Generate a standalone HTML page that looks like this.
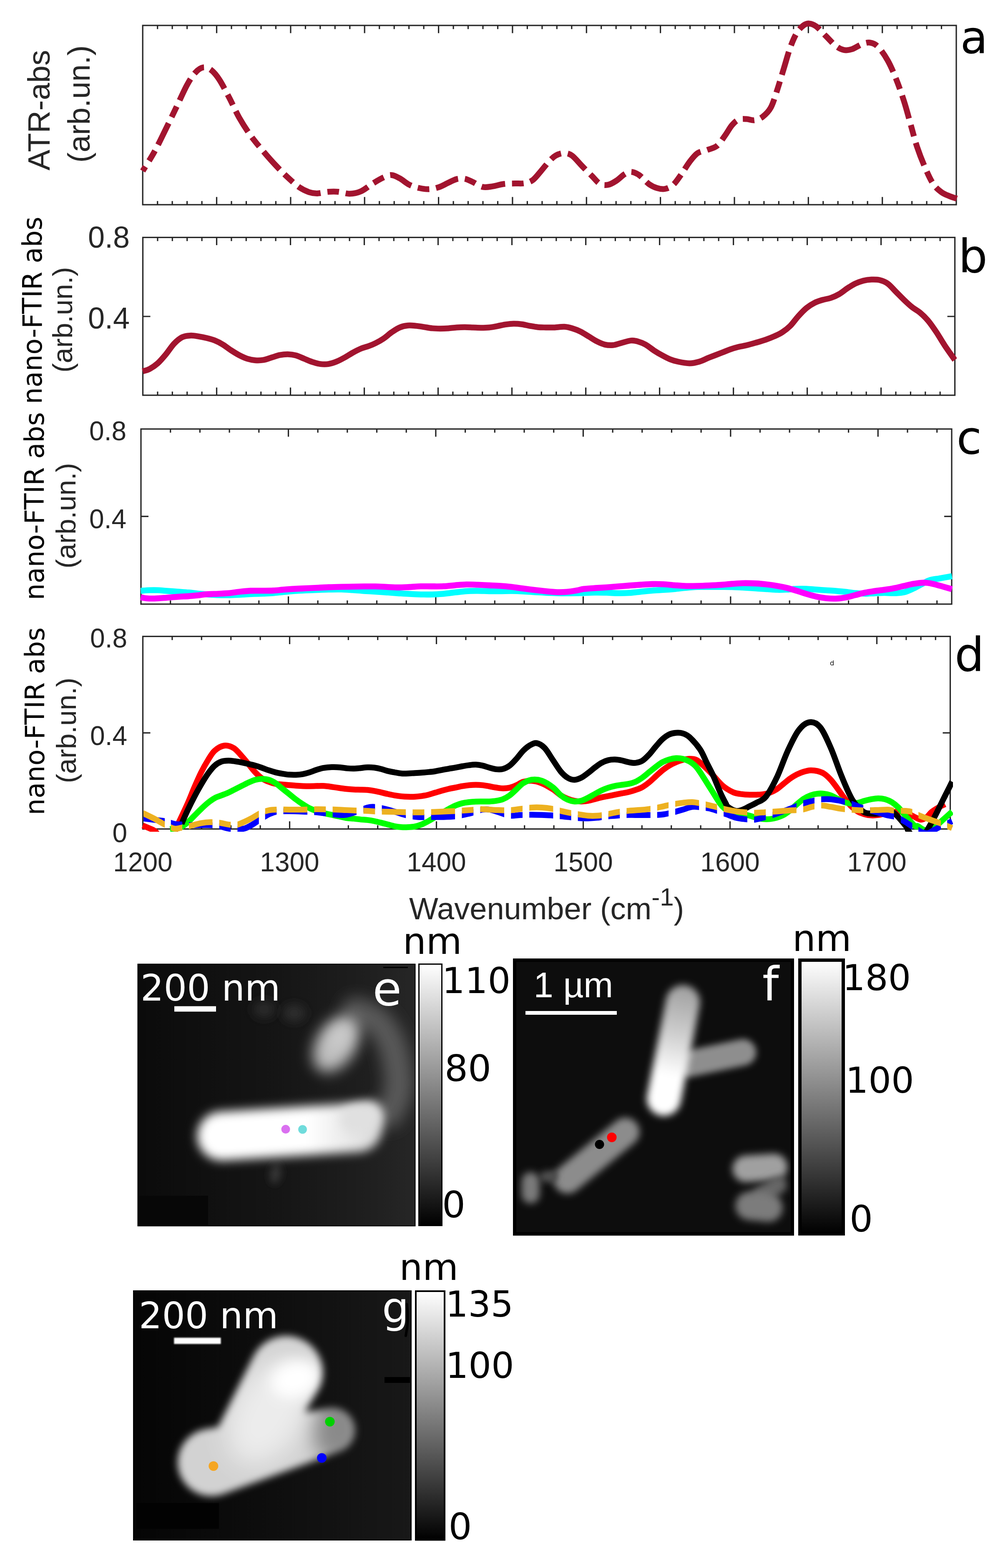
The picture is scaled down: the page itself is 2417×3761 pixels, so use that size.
<!DOCTYPE html>
<html lang="en"><head><meta charset="utf-8"><title>Figure</title>
<style>
html,body{margin:0;padding:0;background:#fff;}
body{width:2417px;height:3761px;overflow:hidden;}
svg{display:block;}
text{white-space:pre;}
</style></head><body>
<svg width="2417" height="3761" viewBox="0 0 2417 3761">
<defs>
<clipPath id="clipA"><rect x="336" y="40" width="1962" height="456"/></clipPath>
<clipPath id="clipB"><rect x="336" y="565" width="1958" height="388"/></clipPath>
<clipPath id="clipC"><rect x="331" y="1025" width="1957" height="430"/></clipPath>
<clipPath id="clipD"><rect x="336" y="1522" width="1949" height="473"/></clipPath>
<linearGradient id="cb" x1="0" y1="0" x2="0" y2="1"><stop offset="0" stop-color="#fff"/><stop offset="1" stop-color="#000"/></linearGradient>
</defs>
<rect width="2417" height="3761" fill="#fff"/>
<g stroke="#262626" stroke-width="3.2" fill="none"><rect x="342.2" y="61.0" width="1950.8" height="430.0"/><path d="M519.5 61.0v18.5M519.5 491.0v-18.5M696.9 61.0v18.5M696.9 491.0v-18.5M874.2 61.0v18.5M874.2 491.0v-18.5M1051.6 61.0v18.5M1051.6 491.0v-18.5M1228.9 61.0v18.5M1228.9 491.0v-18.5M1406.3 61.0v18.5M1406.3 491.0v-18.5M1583.6 61.0v18.5M1583.6 491.0v-18.5M1761.0 61.0v18.5M1761.0 491.0v-18.5M1938.3 61.0v18.5M1938.3 491.0v-18.5M2115.7 61.0v18.5M2115.7 491.0v-18.5M377.7 61.0v8.8M377.7 491.0v-8.8M413.1 61.0v8.8M413.1 491.0v-8.8M448.6 61.0v8.8M448.6 491.0v-8.8M484.1 61.0v8.8M484.1 491.0v-8.8M555.0 61.0v8.8M555.0 491.0v-8.8M590.5 61.0v8.8M590.5 491.0v-8.8M626.0 61.0v8.8M626.0 491.0v-8.8M661.4 61.0v8.8M661.4 491.0v-8.8M732.4 61.0v8.8M732.4 491.0v-8.8M767.8 61.0v8.8M767.8 491.0v-8.8M803.3 61.0v8.8M803.3 491.0v-8.8M838.8 61.0v8.8M838.8 491.0v-8.8M909.7 61.0v8.8M909.7 491.0v-8.8M945.2 61.0v8.8M945.2 491.0v-8.8M980.6 61.0v8.8M980.6 491.0v-8.8M1016.1 61.0v8.8M1016.1 491.0v-8.8M1087.1 61.0v8.8M1087.1 491.0v-8.8M1122.5 61.0v8.8M1122.5 491.0v-8.8M1158.0 61.0v8.8M1158.0 491.0v-8.8M1193.5 61.0v8.8M1193.5 491.0v-8.8M1264.4 61.0v8.8M1264.4 491.0v-8.8M1299.9 61.0v8.8M1299.9 491.0v-8.8M1335.3 61.0v8.8M1335.3 491.0v-8.8M1370.8 61.0v8.8M1370.8 491.0v-8.8M1441.7 61.0v8.8M1441.7 491.0v-8.8M1477.2 61.0v8.8M1477.2 491.0v-8.8M1512.7 61.0v8.8M1512.7 491.0v-8.8M1548.1 61.0v8.8M1548.1 491.0v-8.8M1619.1 61.0v8.8M1619.1 491.0v-8.8M1654.6 61.0v8.8M1654.6 491.0v-8.8M1690.0 61.0v8.8M1690.0 491.0v-8.8M1725.5 61.0v8.8M1725.5 491.0v-8.8M1796.4 61.0v8.8M1796.4 491.0v-8.8M1831.9 61.0v8.8M1831.9 491.0v-8.8M1867.4 61.0v8.8M1867.4 491.0v-8.8M1902.8 61.0v8.8M1902.8 491.0v-8.8M1973.8 61.0v8.8M1973.8 491.0v-8.8M2009.2 61.0v8.8M2009.2 491.0v-8.8M2044.7 61.0v8.8M2044.7 491.0v-8.8M2080.2 61.0v8.8M2080.2 491.0v-8.8M2151.1 61.0v8.8M2151.1 491.0v-8.8M2186.6 61.0v8.8M2186.6 491.0v-8.8M2222.1 61.0v8.8M2222.1 491.0v-8.8M2257.5 61.0v8.8M2257.5 491.0v-8.8"/></g>
<g clip-path="url(#clipA)"><path d="M342.2 410.1C346.9 402.3 361.4 380.3 370.6 363.4C379.9 346.5 388.8 327.3 397.9 308.8C407.0 290.3 416.8 269.9 425.2 252.3C433.6 234.8 441.4 216.6 448.6 203.6C455.7 190.6 461.6 181.4 468.1 174.4C474.5 167.4 481.0 162.5 487.5 161.6C494.0 160.6 500.5 163.5 507.0 168.6C513.5 173.6 519.4 180.9 526.5 191.9C533.6 203.0 542.1 219.9 549.9 234.8C557.7 249.7 564.8 266.6 573.2 281.6C581.7 296.5 590.8 310.8 600.5 324.4C610.3 338.1 621.3 351.0 631.7 363.4C642.1 375.7 653.1 388.1 662.9 398.4C672.6 408.8 681.0 417.3 690.1 425.7C699.2 434.2 709.0 443.2 717.4 449.1C725.8 454.9 733.6 458.3 740.8 460.8C747.9 463.2 752.5 464.0 760.3 463.9C768.1 463.8 779.1 460.6 787.5 460.0C796.0 459.4 802.5 459.2 810.9 460.0C819.4 460.8 829.1 464.9 838.2 464.7C847.3 464.5 856.1 463.0 865.5 458.8C874.8 454.7 885.4 445.4 894.4 439.8C903.4 434.3 912.1 429.0 919.5 425.7C926.9 422.4 932.5 419.5 939.0 419.9C945.5 420.2 951.3 423.8 958.4 427.7C965.6 431.6 974.0 439.4 981.8 443.2C989.6 447.1 997.4 449.3 1005.2 451.0C1013.0 452.8 1020.8 454.1 1028.6 453.8C1036.4 453.4 1044.2 451.7 1051.9 449.1C1059.7 446.5 1068.2 441.4 1075.3 438.2C1082.5 434.9 1088.3 431.2 1094.8 429.6C1101.3 428.1 1107.8 427.7 1114.3 428.8C1120.8 430.0 1126.6 433.4 1133.8 436.6C1140.9 439.9 1149.4 446.6 1157.1 448.3C1164.9 450.1 1172.1 448.3 1180.5 447.1C1189.0 446.0 1198.7 442.5 1207.8 441.3C1216.9 440.1 1226.6 440.5 1235.1 440.1C1243.5 439.8 1251.3 440.8 1258.4 439.4C1265.6 437.9 1271.4 436.4 1277.9 431.6C1284.4 426.7 1290.9 417.6 1297.4 410.1C1303.9 402.7 1311.0 392.9 1316.9 386.8C1322.7 380.6 1326.6 376.4 1332.5 373.1C1338.3 369.9 1345.5 367.3 1351.9 367.3C1358.4 367.3 1364.2 368.0 1371.4 373.1C1378.7 378.2 1387.4 389.8 1395.5 398.0C1403.5 406.2 1412.2 415.1 1419.5 422.3C1426.7 429.5 1432.5 437.8 1439.0 441.3C1445.5 444.8 1451.9 444.5 1458.4 443.2C1464.9 441.9 1471.4 437.7 1477.9 433.5C1484.4 429.3 1491.6 421.5 1497.4 417.9C1503.2 414.4 1507.1 411.8 1513.0 412.1C1518.8 412.4 1525.3 415.0 1532.5 419.9C1539.6 424.7 1548.7 436.1 1555.8 441.3C1563.0 446.5 1568.8 449.1 1575.3 451.0C1581.8 453.0 1588.3 454.3 1594.8 453.0C1601.3 451.7 1607.8 449.1 1614.3 443.2C1620.8 437.4 1627.3 427.0 1633.8 417.9C1640.3 408.8 1646.8 397.1 1653.2 388.7C1659.7 380.3 1665.6 372.1 1672.7 367.3C1679.9 362.4 1688.3 362.4 1696.1 359.5C1703.9 356.6 1712.3 355.6 1719.5 349.7C1726.6 343.9 1733.1 332.5 1739.0 324.4C1744.8 316.3 1749.4 307.2 1754.5 301.0C1759.7 294.9 1764.3 290.0 1770.1 287.4C1776.0 284.8 1783.1 285.3 1789.6 285.5C1796.1 285.6 1802.6 289.3 1809.1 288.4C1815.6 287.5 1822.2 285.1 1828.7 280.1C1835.2 275.1 1842.3 269.0 1848.2 258.2C1854.0 247.4 1858.6 230.9 1863.8 215.3C1868.9 199.7 1874.1 181.6 1879.3 164.7C1884.5 147.8 1889.7 128.3 1894.9 114.0C1900.1 99.7 1905.3 87.7 1910.5 79.0C1915.7 70.2 1921.2 65.2 1926.1 61.4C1931.0 57.7 1934.5 56.0 1939.7 56.4C1944.9 56.7 1950.4 58.3 1957.3 63.4C1964.1 68.4 1972.8 79.0 1980.6 86.8C1988.4 94.5 1996.9 104.6 2004.0 110.1C2011.2 115.6 2017.0 118.6 2023.5 119.9C2030.0 121.2 2035.8 120.2 2043.0 117.9C2050.1 115.6 2059.2 108.8 2066.4 106.2C2073.5 103.6 2079.3 101.4 2085.8 102.3C2092.3 103.3 2098.2 104.9 2105.3 112.1C2112.5 119.2 2121.5 132.5 2128.7 145.2C2135.8 157.9 2141.7 171.8 2148.2 188.1C2154.7 204.3 2161.8 224.4 2167.6 242.6C2173.5 260.8 2178.0 279.0 2183.2 297.1C2188.4 315.3 2193.0 334.2 2198.8 351.7C2204.7 369.2 2211.8 387.4 2218.3 402.3C2224.8 417.3 2231.3 431.6 2237.8 441.3C2244.3 451.0 2250.8 455.9 2257.3 460.8C2263.8 465.6 2270.6 467.9 2276.7 470.5C2282.9 473.1 2291.4 475.4 2294.3 476.4" fill="none" stroke="#a2142f" stroke-width="14.0" stroke-dasharray="57.5 16.3 28 16.3" stroke-dashoffset="45" stroke-linejoin="round"/></g>
<text x="118.9" y="264.5" font-family='"Liberation Sans", Arial, Helvetica, sans-serif' font-size="74.7" fill="#262626" text-anchor="middle" transform="rotate(-90 118.9 264.5)" >ATR-abs</text>
<text x="215.3" y="249.5" font-family='"Liberation Sans", Arial, Helvetica, sans-serif' font-size="74.5" fill="#262626" text-anchor="middle" transform="rotate(-90 215.3 249.5)" >(arb.un.)</text>
<text x="2302.5" y="127.0" font-family='"DejaVu Sans", "Liberation Sans", sans-serif' font-size="108.0" fill="#000" text-anchor="start" >a</text>
<g stroke="#262626" stroke-width="3.2" fill="none"><rect x="342.5" y="569.5" width="1947.1" height="378.5"/><path d="M519.5 569.5v18.5M519.5 948.0v-18.5M696.5 569.5v18.5M696.5 948.0v-18.5M873.5 569.5v18.5M873.5 948.0v-18.5M1050.5 569.5v18.5M1050.5 948.0v-18.5M1227.5 569.5v18.5M1227.5 948.0v-18.5M1404.6 569.5v18.5M1404.6 948.0v-18.5M1581.6 569.5v18.5M1581.6 948.0v-18.5M1758.6 569.5v18.5M1758.6 948.0v-18.5M1935.6 569.5v18.5M1935.6 948.0v-18.5M2112.6 569.5v18.5M2112.6 948.0v-18.5M377.9 569.5v8.8M377.9 948.0v-8.8M413.3 569.5v8.8M413.3 948.0v-8.8M448.7 569.5v8.8M448.7 948.0v-8.8M484.1 569.5v8.8M484.1 948.0v-8.8M554.9 569.5v8.8M554.9 948.0v-8.8M590.3 569.5v8.8M590.3 948.0v-8.8M625.7 569.5v8.8M625.7 948.0v-8.8M661.1 569.5v8.8M661.1 948.0v-8.8M731.9 569.5v8.8M731.9 948.0v-8.8M767.3 569.5v8.8M767.3 948.0v-8.8M802.7 569.5v8.8M802.7 948.0v-8.8M838.1 569.5v8.8M838.1 948.0v-8.8M908.9 569.5v8.8M908.9 948.0v-8.8M944.3 569.5v8.8M944.3 948.0v-8.8M979.7 569.5v8.8M979.7 948.0v-8.8M1015.1 569.5v8.8M1015.1 948.0v-8.8M1085.9 569.5v8.8M1085.9 948.0v-8.8M1121.3 569.5v8.8M1121.3 948.0v-8.8M1156.7 569.5v8.8M1156.7 948.0v-8.8M1192.1 569.5v8.8M1192.1 948.0v-8.8M1262.9 569.5v8.8M1262.9 948.0v-8.8M1298.3 569.5v8.8M1298.3 948.0v-8.8M1333.8 569.5v8.8M1333.8 948.0v-8.8M1369.2 569.5v8.8M1369.2 948.0v-8.8M1440.0 569.5v8.8M1440.0 948.0v-8.8M1475.4 569.5v8.8M1475.4 948.0v-8.8M1510.8 569.5v8.8M1510.8 948.0v-8.8M1546.2 569.5v8.8M1546.2 948.0v-8.8M1617.0 569.5v8.8M1617.0 948.0v-8.8M1652.4 569.5v8.8M1652.4 948.0v-8.8M1687.8 569.5v8.8M1687.8 948.0v-8.8M1723.2 569.5v8.8M1723.2 948.0v-8.8M1794.0 569.5v8.8M1794.0 948.0v-8.8M1829.4 569.5v8.8M1829.4 948.0v-8.8M1864.8 569.5v8.8M1864.8 948.0v-8.8M1900.2 569.5v8.8M1900.2 948.0v-8.8M1971.0 569.5v8.8M1971.0 948.0v-8.8M2006.4 569.5v8.8M2006.4 948.0v-8.8M2041.8 569.5v8.8M2041.8 948.0v-8.8M2077.2 569.5v8.8M2077.2 948.0v-8.8M2148.0 569.5v8.8M2148.0 948.0v-8.8M2183.4 569.5v8.8M2183.4 948.0v-8.8M2218.8 569.5v8.8M2218.8 948.0v-8.8M2254.2 569.5v8.8M2254.2 948.0v-8.8M342.5 759.0h18.0M2289.6 759.0h-18.0"/></g>
<g clip-path="url(#clipB)"><path d="M342.2 890.6C345.0 889.7 352.9 888.1 359.0 884.8C365.0 881.6 371.9 877.0 378.4 871.2C384.9 865.3 391.4 857.5 397.9 849.7C404.4 841.9 410.9 831.2 417.4 824.4C423.9 817.6 430.4 812.1 436.9 808.8C443.4 805.6 449.9 805.3 456.4 804.9C462.9 804.6 469.4 805.9 475.8 806.9C482.3 807.9 488.8 809.2 495.3 810.8C501.8 812.4 508.3 814.0 514.8 816.6C521.3 819.2 527.8 822.5 534.3 826.4C540.8 830.3 547.3 835.8 553.8 840.0C560.3 844.2 566.8 848.3 573.2 851.7C579.7 855.1 586.2 858.2 592.7 860.3C599.2 862.3 605.7 863.6 612.2 864.2C618.7 864.7 625.2 864.5 631.7 863.4C638.2 862.3 644.7 859.5 651.2 857.5C657.7 855.6 664.2 853.0 670.6 851.7C677.1 850.4 683.6 849.6 690.1 849.7C696.6 849.9 703.1 850.7 709.6 852.5C716.1 854.2 722.6 857.7 729.1 860.3C735.6 862.9 742.1 865.9 748.6 868.1C755.1 870.2 761.6 872.3 768.1 873.1C774.5 874.0 781.0 874.1 787.5 873.1C794.0 872.1 800.5 869.9 807.0 867.3C813.5 864.7 820.0 861.1 826.5 857.5C833.0 854.0 839.5 849.4 846.0 845.8C852.5 842.3 859.0 838.8 865.5 836.1C871.9 833.4 879.2 831.9 884.9 829.8C890.7 827.7 894.2 826.4 900.0 823.4C905.8 820.5 913.0 816.6 919.5 812.2C926.0 807.9 932.5 801.6 939.0 797.1C945.5 792.7 951.9 788.2 958.4 785.5C964.9 782.7 971.4 781.4 977.9 780.8C984.4 780.1 990.9 781.0 997.4 781.6C1003.9 782.1 1010.4 783.3 1016.9 784.3C1023.4 785.3 1029.9 786.8 1036.4 787.4C1042.9 788.1 1049.4 788.2 1055.8 788.2C1062.3 788.2 1068.8 787.9 1075.3 787.4C1081.8 786.9 1088.3 785.9 1094.8 785.5C1101.3 785.0 1107.8 784.7 1114.3 784.7C1120.8 784.7 1127.3 785.2 1133.8 785.5C1140.3 785.7 1146.8 786.2 1153.2 786.2C1159.7 786.2 1166.2 786.1 1172.7 785.5C1179.2 784.8 1185.7 783.5 1192.2 782.3C1198.7 781.2 1205.2 779.4 1211.7 778.4C1218.2 777.5 1224.7 776.6 1231.2 776.5C1237.7 776.4 1244.2 776.8 1250.6 777.7C1257.1 778.5 1263.6 780.4 1270.1 781.6C1276.6 782.7 1283.1 784.0 1289.6 784.7C1296.1 785.3 1302.6 785.3 1309.1 785.5C1315.6 785.6 1321.2 785.7 1328.6 785.5C1335.9 785.2 1345.9 783.4 1353.2 783.8C1360.6 784.1 1366.2 785.7 1372.7 787.7C1379.2 789.6 1385.7 792.2 1392.2 795.5C1398.7 798.7 1405.2 803.2 1411.7 807.1C1418.2 811.0 1424.7 815.6 1431.2 818.8C1437.7 822.1 1444.2 825.1 1450.6 826.6C1457.1 828.1 1463.6 828.4 1470.1 827.8C1476.6 827.1 1482.5 824.5 1489.6 822.7C1496.8 820.9 1506.5 817.5 1513.0 816.9C1519.5 816.2 1522.7 817.2 1528.6 818.8C1534.4 820.5 1541.6 823.1 1548.1 826.6C1554.5 830.2 1561.0 836.0 1567.5 840.3C1574.0 844.5 1580.5 848.4 1587.0 851.9C1593.5 855.5 1600.0 859.1 1606.5 861.7C1613.0 864.3 1618.2 865.9 1626.0 867.5C1633.8 869.2 1644.8 871.4 1653.2 871.4C1661.7 871.4 1668.8 869.8 1676.6 867.5C1684.4 865.3 1690.9 861.4 1700.0 857.8C1709.1 854.2 1722.7 849.1 1731.2 845.8C1739.6 842.6 1744.2 840.3 1750.6 838.1C1757.1 835.8 1763.6 833.8 1770.1 832.2C1776.6 830.6 1782.5 830.0 1789.6 828.3C1796.8 826.6 1805.2 824.1 1813.0 821.8C1820.9 819.5 1829.3 817.1 1836.5 814.6C1843.6 812.1 1849.5 809.8 1856.0 806.9C1862.5 804.0 1868.9 801.4 1875.4 797.1C1881.9 792.9 1888.4 788.1 1894.9 781.6C1901.4 775.1 1907.9 765.3 1914.4 758.2C1920.9 751.0 1927.4 744.0 1933.9 738.7C1940.4 733.4 1946.9 729.5 1953.4 726.2C1959.9 723.0 1966.4 721.2 1972.8 719.2C1979.3 717.3 1985.8 716.8 1992.3 714.5C1998.8 712.3 2005.3 709.4 2011.8 705.6C2018.3 701.8 2024.8 696.2 2031.3 691.9C2037.8 687.7 2044.3 683.4 2050.8 680.3C2057.3 677.1 2063.8 674.9 2070.2 673.2C2076.7 671.6 2083.2 670.8 2089.7 670.5C2096.2 670.3 2102.7 670.1 2109.2 671.7C2115.7 673.3 2122.2 675.6 2128.7 680.3C2135.2 684.9 2141.7 693.2 2148.2 699.7C2154.7 706.2 2161.2 713.1 2167.6 719.2C2174.1 725.4 2180.6 731.6 2187.1 736.8C2193.6 741.9 2200.1 744.9 2206.6 750.4C2213.1 755.9 2219.6 762.1 2226.1 769.9C2232.6 777.7 2239.1 787.4 2245.6 797.1C2252.1 806.9 2257.7 817.3 2265.1 828.3C2272.4 839.4 2285.5 857.5 2289.6 863.4" fill="none" stroke="#a2142f" stroke-width="14.0" stroke-linejoin="round"/></g>
<text x="99.5" y="744.5" font-family='"DejaVu Sans", "Liberation Sans", sans-serif' font-size="63.2" fill="#000" text-anchor="middle" transform="rotate(-90 99.5 744.5)" >nano-FTIR abs</text>
<text x="173.2" y="767.0" font-family='"Liberation Sans", Arial, Helvetica, sans-serif' font-size="67.0" fill="#262626" text-anchor="middle" transform="rotate(-90 173.2 767.0)" >(arb.un.)</text>
<text x="311.0" y="593.5" font-family='"Liberation Sans", Arial, Helvetica, sans-serif' font-size="72.0" fill="#262626" text-anchor="end" >0.8</text>
<text x="311.0" y="788.0" font-family='"Liberation Sans", Arial, Helvetica, sans-serif' font-size="72.0" fill="#262626" text-anchor="end" >0.4</text>
<text x="2298.0" y="653.0" font-family='"DejaVu Sans", "Liberation Sans", sans-serif' font-size="110.0" fill="#000" text-anchor="start" >b</text>
<g stroke="#262626" stroke-width="3.2" fill="none"><rect x="338.0" y="1029.0" width="1944.0" height="420.0"/><path d="M691.5 1029.0v18.5M691.5 1449.0v-18.5M1044.9 1029.0v18.5M1044.9 1449.0v-18.5M1398.4 1029.0v18.5M1398.4 1449.0v-18.5M1751.8 1029.0v18.5M1751.8 1449.0v-18.5M2105.3 1029.0v18.5M2105.3 1449.0v-18.5M408.7 1029.0v8.8M408.7 1449.0v-8.8M479.4 1029.0v8.8M479.4 1449.0v-8.8M550.1 1029.0v8.8M550.1 1449.0v-8.8M620.8 1029.0v8.8M620.8 1449.0v-8.8M762.1 1029.0v8.8M762.1 1449.0v-8.8M832.8 1029.0v8.8M832.8 1449.0v-8.8M903.5 1029.0v8.8M903.5 1449.0v-8.8M974.2 1029.0v8.8M974.2 1449.0v-8.8M1115.6 1029.0v8.8M1115.6 1449.0v-8.8M1186.3 1029.0v8.8M1186.3 1449.0v-8.8M1257.0 1029.0v8.8M1257.0 1449.0v-8.8M1327.7 1029.0v8.8M1327.7 1449.0v-8.8M1469.1 1029.0v8.8M1469.1 1449.0v-8.8M1539.7 1029.0v8.8M1539.7 1449.0v-8.8M1610.4 1029.0v8.8M1610.4 1449.0v-8.8M1681.1 1029.0v8.8M1681.1 1449.0v-8.8M1822.5 1029.0v8.8M1822.5 1449.0v-8.8M1893.2 1029.0v8.8M1893.2 1449.0v-8.8M1963.9 1029.0v8.8M1963.9 1449.0v-8.8M2034.6 1029.0v8.8M2034.6 1449.0v-8.8M2176.0 1029.0v8.8M2176.0 1449.0v-8.8M2246.7 1029.0v8.8M2246.7 1449.0v-8.8M338.0 1238.7h18.0M2282.0 1238.7h-18.0"/></g>
<g clip-path="url(#clipC)"><path d="M337.5 1417.1C341.1 1416.9 352.1 1415.9 359.0 1415.7C365.8 1415.4 371.9 1415.4 378.4 1415.7C384.9 1415.9 390.1 1416.6 397.9 1417.1C405.7 1417.7 416.1 1418.4 425.2 1419.1C434.3 1419.8 444.0 1420.4 452.5 1421.2C460.9 1422.0 467.4 1423.0 475.8 1423.9C484.3 1424.7 494.0 1425.8 503.1 1426.4C512.2 1427.0 521.3 1427.5 530.4 1427.7C539.5 1427.8 548.6 1427.6 557.7 1427.4C566.8 1427.1 576.5 1426.5 584.9 1426.0C593.4 1425.6 600.5 1425.0 608.3 1424.6C616.1 1424.3 623.9 1424.2 631.7 1423.9C639.5 1423.5 647.3 1423.2 655.1 1422.6C662.9 1422.0 670.0 1421.0 678.4 1420.2C686.9 1419.3 696.6 1418.3 705.7 1417.6C714.8 1416.9 723.9 1416.5 733.0 1416.1C742.1 1415.6 751.2 1415.4 760.3 1415.1C769.4 1414.8 777.8 1414.3 787.5 1414.1C797.3 1413.9 809.0 1413.7 818.7 1413.9C828.4 1414.1 836.9 1414.8 846.0 1415.4C855.1 1416.0 864.2 1416.9 873.2 1417.5C882.3 1418.1 891.0 1418.6 900.0 1419.2C909.0 1419.8 918.2 1420.4 927.3 1421.0C936.4 1421.6 945.5 1422.4 954.5 1423.0C963.6 1423.6 972.7 1424.3 981.8 1424.7C990.9 1425.2 1000.0 1425.6 1009.1 1425.8C1018.2 1426.0 1027.3 1426.1 1036.4 1425.8C1045.5 1425.6 1054.5 1425.0 1063.6 1424.3C1072.7 1423.5 1081.8 1422.1 1090.9 1421.0C1100.0 1420.0 1109.1 1418.7 1118.2 1418.1C1127.3 1417.5 1136.4 1417.5 1145.5 1417.4C1154.5 1417.4 1163.6 1417.9 1172.7 1418.0C1181.8 1418.1 1190.9 1418.1 1200.0 1418.0C1209.1 1418.0 1218.2 1417.6 1227.3 1417.7C1236.4 1417.8 1245.5 1418.1 1254.5 1418.5C1263.6 1418.9 1272.7 1419.7 1281.8 1420.3C1290.9 1420.8 1300.0 1421.5 1309.1 1421.9C1318.2 1422.3 1327.9 1422.6 1336.4 1422.8C1344.8 1423.0 1351.9 1423.0 1359.7 1423.0C1367.5 1423.0 1376.4 1423.0 1383.1 1422.9C1389.8 1422.7 1392.6 1422.5 1400.0 1422.3C1407.4 1422.0 1418.2 1421.5 1427.3 1421.4C1436.4 1421.3 1445.5 1421.5 1454.5 1421.7C1463.6 1422.0 1472.7 1422.8 1481.8 1422.9C1490.9 1423.0 1500.0 1422.8 1509.1 1422.2C1518.2 1421.6 1527.3 1420.2 1536.4 1419.3C1545.5 1418.3 1554.5 1417.3 1563.6 1416.6C1572.7 1415.8 1581.8 1415.5 1590.9 1414.9C1600.0 1414.3 1609.1 1413.6 1618.2 1412.8C1627.3 1411.9 1636.4 1410.6 1645.5 1409.8C1654.5 1409.0 1663.6 1408.3 1672.7 1407.9C1681.8 1407.5 1690.9 1407.6 1700.0 1407.6C1709.1 1407.6 1718.2 1407.7 1727.3 1407.8C1736.4 1407.9 1745.5 1407.8 1754.5 1408.1C1763.6 1408.3 1772.1 1408.8 1781.8 1409.4C1791.6 1409.9 1803.3 1410.6 1813.0 1411.3C1822.8 1411.9 1831.9 1412.7 1840.4 1413.2C1848.8 1413.8 1856.0 1414.5 1863.8 1414.7C1871.5 1414.9 1879.3 1414.6 1887.1 1414.2C1894.9 1413.8 1902.7 1412.8 1910.5 1412.5C1918.3 1412.2 1926.1 1412.2 1933.9 1412.5C1941.7 1412.8 1949.5 1413.7 1957.3 1414.2C1965.1 1414.8 1972.8 1415.4 1980.6 1415.9C1988.4 1416.4 1996.2 1416.7 2004.0 1417.3C2011.8 1418.0 2019.6 1418.7 2027.4 1419.6C2035.2 1420.4 2043.0 1421.8 2050.8 1422.5C2058.6 1423.2 2066.4 1423.9 2074.1 1424.0C2081.9 1424.0 2089.7 1423.3 2097.5 1423.0C2105.3 1422.7 2113.1 1422.2 2120.9 1422.2C2128.7 1422.2 2136.5 1423.1 2144.3 1422.9C2152.1 1422.6 2159.9 1422.7 2167.6 1420.7C2175.4 1418.8 2183.2 1414.9 2191.0 1411.3C2198.8 1407.7 2207.9 1402.2 2214.4 1398.9C2220.9 1395.6 2223.5 1393.4 2230.0 1391.4C2236.5 1389.5 2244.6 1388.8 2253.4 1387.2C2262.1 1385.7 2277.7 1382.9 2282.6 1382.1" fill="none" stroke="#00ffff" stroke-width="14.3" stroke-linejoin="round"/></g>
<g clip-path="url(#clipC)"><path d="M337.5 1432.7C339.8 1433.1 345.6 1434.6 351.2 1435.1C356.7 1435.6 362.9 1435.9 370.6 1435.6C378.4 1435.4 388.8 1434.5 397.9 1433.8C407.0 1433.1 416.1 1432.2 425.2 1431.6C434.3 1430.9 444.0 1430.6 452.5 1430.0C460.9 1429.4 468.7 1428.5 475.8 1427.8C483.0 1427.0 487.5 1426.0 495.3 1425.4C503.1 1424.8 513.5 1424.7 522.6 1424.3C531.7 1423.8 541.4 1423.5 549.9 1422.7C558.3 1421.9 564.8 1420.4 573.2 1419.5C581.7 1418.5 591.4 1417.5 600.5 1417.0C609.6 1416.6 618.7 1416.9 627.8 1416.9C636.9 1416.8 646.6 1416.9 655.1 1416.5C663.5 1416.1 670.0 1415.2 678.4 1414.5C686.9 1413.8 696.6 1413.0 705.7 1412.5C714.8 1411.9 723.9 1411.6 733.0 1411.2C742.1 1410.8 751.2 1410.4 760.3 1409.9C769.4 1409.5 777.8 1408.9 787.5 1408.5C797.3 1408.1 809.0 1407.8 818.7 1407.6C828.4 1407.4 836.9 1407.4 846.0 1407.2C855.1 1407.1 864.2 1406.8 873.2 1406.7C882.3 1406.6 891.0 1406.4 900.0 1406.6C909.0 1406.8 918.2 1407.4 927.3 1407.8C936.4 1408.2 945.5 1408.9 954.5 1409.0C963.6 1409.0 972.7 1408.4 981.8 1408.0C990.9 1407.6 1000.0 1406.7 1009.1 1406.4C1018.2 1406.2 1027.3 1406.6 1036.4 1406.5C1045.5 1406.5 1054.5 1406.7 1063.6 1406.2C1072.7 1405.8 1081.8 1404.5 1090.9 1403.8C1100.0 1403.1 1109.1 1402.1 1118.2 1401.9C1127.3 1401.8 1136.4 1402.3 1145.5 1402.6C1154.5 1403.0 1163.6 1403.6 1172.7 1404.0C1181.8 1404.4 1190.9 1404.6 1200.0 1405.3C1209.1 1405.9 1218.2 1406.8 1227.3 1407.9C1236.4 1409.0 1245.5 1410.5 1254.5 1411.7C1263.6 1412.9 1272.7 1414.1 1281.8 1415.2C1290.9 1416.3 1300.0 1417.4 1309.1 1418.2C1318.2 1419.1 1327.9 1420.1 1336.4 1420.4C1344.8 1420.6 1351.9 1420.4 1359.7 1419.7C1367.5 1419.1 1376.4 1417.5 1383.1 1416.3C1389.8 1415.1 1392.6 1413.7 1400.0 1412.7C1407.4 1411.7 1418.2 1411.1 1427.3 1410.5C1436.4 1409.9 1445.5 1409.5 1454.5 1408.9C1463.6 1408.2 1472.7 1407.5 1481.8 1406.7C1490.9 1406.0 1500.0 1405.2 1509.1 1404.5C1518.2 1403.8 1527.3 1403.1 1536.4 1402.5C1545.5 1401.9 1554.5 1401.2 1563.6 1401.0C1572.7 1400.8 1581.8 1400.9 1590.9 1401.4C1600.0 1401.8 1609.1 1403.1 1618.2 1403.8C1627.3 1404.5 1636.4 1405.3 1645.5 1405.6C1654.5 1405.8 1663.6 1405.6 1672.7 1405.4C1681.8 1405.2 1690.9 1404.8 1700.0 1404.4C1709.1 1404.0 1718.2 1403.6 1727.3 1402.9C1736.4 1402.3 1745.5 1401.2 1754.5 1400.5C1763.6 1399.8 1772.1 1398.9 1781.8 1398.8C1791.6 1398.6 1803.3 1399.0 1813.0 1399.5C1822.8 1400.0 1831.9 1401.0 1840.4 1402.0C1848.8 1403.0 1856.0 1404.1 1863.8 1405.5C1871.5 1406.8 1879.3 1408.4 1887.1 1410.3C1894.9 1412.3 1902.7 1414.8 1910.5 1417.1C1918.3 1419.5 1926.1 1422.4 1933.9 1424.6C1941.7 1426.9 1949.5 1429.2 1957.3 1430.9C1965.1 1432.6 1972.8 1433.9 1980.6 1434.8C1988.4 1435.6 1996.2 1436.1 2004.0 1435.8C2011.8 1435.6 2019.6 1434.6 2027.4 1433.2C2035.2 1431.8 2043.0 1429.3 2050.8 1427.4C2058.6 1425.4 2066.4 1423.1 2074.1 1421.5C2081.9 1419.9 2089.7 1418.8 2097.5 1417.6C2105.3 1416.5 2113.1 1415.8 2120.9 1414.7C2128.7 1413.6 2136.5 1412.4 2144.3 1410.8C2152.1 1409.3 2159.9 1407.2 2167.6 1405.5C2175.4 1403.7 2183.2 1401.6 2191.0 1400.3C2198.8 1399.0 2207.9 1397.8 2214.4 1397.6C2220.9 1397.4 2223.5 1397.8 2230.0 1399.0C2236.5 1400.2 2244.6 1402.5 2253.4 1404.9C2262.1 1407.2 2277.7 1411.9 2282.6 1413.2" fill="none" stroke="#ff00ff" stroke-width="14.3" stroke-linejoin="round"/></g>
<text x="105.0" y="1214.0" font-family='"DejaVu Sans", "Liberation Sans", sans-serif' font-size="63.4" fill="#000" text-anchor="middle" transform="rotate(-90 105.0 1214.0)" >nano-FTIR abs</text>
<text x="181.2" y="1237.0" font-family='"Liberation Sans", Arial, Helvetica, sans-serif' font-size="67.0" fill="#262626" text-anchor="middle" transform="rotate(-90 181.2 1237.0)" >(arb.un.)</text>
<text x="303.0" y="1056.0" font-family='"Liberation Sans", Arial, Helvetica, sans-serif' font-size="64.0" fill="#262626" text-anchor="end" >0.8</text>
<text x="303.0" y="1267.0" font-family='"Liberation Sans", Arial, Helvetica, sans-serif' font-size="64.0" fill="#262626" text-anchor="end" >0.4</text>
<text x="2293.5" y="1088.0" font-family='"DejaVu Sans", "Liberation Sans", sans-serif' font-size="110.0" fill="#000" text-anchor="start" >c</text>
<g stroke="#262626" stroke-width="3.2" fill="none"><rect x="342.5" y="1526.5" width="1936.0" height="461.9"/><path d="M694.5 1526.5v18.5M694.5 1988.4v-18.5M1046.5 1526.5v18.5M1046.5 1988.4v-18.5M1398.5 1526.5v18.5M1398.5 1988.4v-18.5M1750.5 1526.5v18.5M1750.5 1988.4v-18.5M2102.5 1526.5v18.5M2102.5 1988.4v-18.5M412.9 1526.5v8.8M412.9 1988.4v-8.8M483.3 1526.5v8.8M483.3 1988.4v-8.8M553.7 1526.5v8.8M553.7 1988.4v-8.8M624.1 1526.5v8.8M624.1 1988.4v-8.8M764.9 1526.5v8.8M764.9 1988.4v-8.8M835.3 1526.5v8.8M835.3 1988.4v-8.8M905.7 1526.5v8.8M905.7 1988.4v-8.8M976.1 1526.5v8.8M976.1 1988.4v-8.8M1116.9 1526.5v8.8M1116.9 1988.4v-8.8M1187.3 1526.5v8.8M1187.3 1988.4v-8.8M1257.7 1526.5v8.8M1257.7 1988.4v-8.8M1328.1 1526.5v8.8M1328.1 1988.4v-8.8M1468.9 1526.5v8.8M1468.9 1988.4v-8.8M1539.3 1526.5v8.8M1539.3 1988.4v-8.8M1609.7 1526.5v8.8M1609.7 1988.4v-8.8M1680.1 1526.5v8.8M1680.1 1988.4v-8.8M1820.9 1526.5v8.8M1820.9 1988.4v-8.8M1891.3 1526.5v8.8M1891.3 1988.4v-8.8M1961.7 1526.5v8.8M1961.7 1988.4v-8.8M2032.1 1526.5v8.8M2032.1 1988.4v-8.8M2137.7 1526.5v8.8M2137.7 1988.4v-8.8M2172.9 1526.5v8.8M2172.9 1988.4v-8.8M2208.1 1526.5v8.8M2208.1 1988.4v-8.8M2243.3 1526.5v8.8M2243.3 1988.4v-8.8M342.5 1757.8h18.0M2278.5 1757.8h-18.0"/></g>
<g clip-path="url(#clipD)"><path d="M342.1 1979.9C344.4 1980.8 350.7 1983.4 355.7 1985.7C360.7 1988.0 366.5 1989.5 371.9 1993.8C377.4 1998.2 381.7 2009.1 388.2 2011.7C394.7 2014.3 404.4 2015.2 410.9 2009.3C417.4 2003.3 420.6 1989.6 427.1 1976.0C433.6 1962.3 443.4 1941.9 449.9 1927.3C456.4 1912.7 460.7 1900.8 466.1 1888.3C471.5 1875.9 476.9 1863.4 482.3 1852.6C487.7 1841.8 493.2 1832.0 498.6 1823.4C504.0 1814.7 508.3 1806.5 514.8 1800.6C521.3 1794.8 530.0 1789.6 537.5 1788.5C545.1 1787.4 553.2 1790.0 560.3 1794.2C567.3 1798.3 573.8 1807.1 579.7 1813.6C585.7 1820.1 590.6 1826.6 596.0 1833.1C601.4 1839.6 606.8 1846.9 612.2 1852.6C617.6 1858.3 623.0 1863.4 628.4 1867.2C633.9 1871.0 639.3 1873.2 644.7 1875.3C650.1 1877.5 655.5 1879.1 660.9 1880.2C666.3 1881.3 669.0 1881.1 677.1 1881.8C685.3 1882.5 698.8 1883.8 709.6 1884.4C720.4 1885.1 731.3 1885.6 742.1 1885.7C752.9 1885.8 764.9 1884.7 774.5 1885.1C784.2 1885.5 793.1 1887.2 800.0 1888.1C806.9 1889.0 810.8 1889.8 816.2 1890.5C821.6 1891.2 827.1 1892.0 832.5 1892.5C837.9 1893.1 843.3 1893.6 848.7 1893.8C854.1 1894.1 859.5 1894.0 864.9 1894.2C870.3 1894.3 875.8 1894.3 881.2 1894.8C886.6 1895.3 892.0 1896.1 897.4 1897.1C902.8 1898.1 908.2 1899.4 913.6 1900.6C919.0 1901.9 924.5 1903.4 929.9 1904.5C935.3 1905.7 940.7 1906.9 946.1 1907.8C951.5 1908.7 956.9 1909.5 962.3 1910.1C967.7 1910.6 973.2 1910.9 978.6 1911.0C984.0 1911.2 989.4 1911.3 994.8 1911.0C1000.2 1910.8 1005.6 1910.2 1011.0 1909.4C1016.5 1908.6 1021.9 1907.5 1027.3 1906.2C1032.7 1904.8 1038.1 1902.9 1043.5 1901.3C1048.9 1899.7 1054.3 1897.9 1059.7 1896.4C1065.2 1894.9 1070.6 1893.5 1076.0 1892.2C1081.4 1891.0 1086.8 1890.0 1092.2 1889.0C1097.6 1887.9 1103.0 1886.6 1108.4 1885.7C1113.9 1884.8 1119.3 1884.0 1124.7 1883.4C1130.1 1882.9 1135.5 1882.5 1140.9 1882.5C1146.3 1882.5 1151.7 1882.8 1157.1 1883.4C1162.6 1884.0 1168.0 1885.1 1173.4 1886.0C1178.8 1887.0 1184.2 1888.1 1189.6 1889.0C1195.0 1889.8 1200.4 1890.9 1205.8 1890.9C1211.3 1891.0 1216.7 1890.5 1222.1 1889.3C1227.5 1888.0 1232.9 1885.8 1238.3 1883.4C1243.7 1881.1 1248.4 1877.1 1254.5 1875.3C1260.7 1873.6 1267.9 1872.3 1275.4 1872.8C1282.9 1873.4 1291.1 1875.5 1299.5 1878.9C1307.8 1882.2 1317.9 1888.4 1325.5 1893.2C1333.0 1898.0 1339.0 1904.0 1344.9 1907.8C1350.9 1911.6 1355.8 1913.7 1361.2 1915.9C1366.6 1918.1 1372.0 1919.7 1377.4 1920.8C1382.8 1921.9 1388.2 1922.4 1393.6 1922.4C1399.0 1922.4 1404.5 1921.7 1409.9 1920.8C1415.3 1919.9 1420.7 1918.2 1426.1 1916.9C1431.5 1915.5 1436.9 1913.9 1442.3 1912.7C1447.7 1911.4 1453.2 1910.5 1458.6 1909.4C1464.0 1908.3 1469.4 1907.3 1474.8 1906.2C1480.2 1905.1 1485.6 1904.0 1491.0 1902.9C1496.5 1901.8 1501.9 1901.0 1507.3 1899.7C1512.7 1898.3 1518.1 1896.7 1523.5 1894.8C1528.9 1892.9 1534.3 1891.3 1539.7 1888.3C1545.2 1885.3 1550.6 1881.3 1556.0 1876.9C1561.4 1872.6 1566.8 1867.2 1572.2 1862.3C1577.6 1857.5 1583.0 1852.1 1588.4 1847.7C1593.9 1843.4 1599.3 1839.6 1604.7 1836.4C1610.1 1833.1 1615.5 1830.5 1620.9 1828.2C1626.3 1826.0 1631.7 1824.1 1637.1 1822.7C1642.6 1821.4 1648.0 1820.1 1653.4 1820.1C1658.8 1820.1 1664.2 1820.2 1669.6 1822.7C1675.0 1825.3 1679.7 1830.0 1685.8 1835.6C1692.0 1841.1 1698.7 1847.9 1706.5 1856.0C1714.3 1864.2 1723.8 1876.8 1732.5 1884.3C1741.1 1891.7 1750.3 1897.0 1758.4 1900.5C1766.6 1904.0 1774.7 1904.2 1781.2 1905.2C1787.7 1906.1 1792.0 1906.0 1797.4 1906.2C1802.8 1906.3 1808.2 1906.3 1813.6 1906.2C1819.0 1906.0 1824.5 1906.0 1829.9 1905.2C1835.3 1904.4 1840.7 1903.3 1846.1 1901.3C1851.5 1899.3 1856.9 1896.7 1862.3 1893.2C1867.7 1889.7 1873.2 1884.5 1878.6 1880.2C1884.0 1875.9 1889.4 1871.0 1894.8 1867.2C1900.2 1863.4 1905.6 1860.2 1911.0 1857.5C1916.5 1854.8 1921.9 1852.6 1927.3 1851.0C1932.7 1849.4 1938.1 1848.0 1943.5 1847.7C1948.9 1847.5 1954.3 1848.0 1959.7 1849.4C1965.2 1850.7 1970.6 1852.3 1976.0 1855.8C1981.4 1859.4 1986.8 1864.5 1992.2 1870.5C1997.6 1876.4 2003.0 1884.3 2008.4 1891.6C2013.9 1898.9 2019.3 1907.3 2024.7 1914.3C2030.1 1921.3 2035.5 1928.4 2040.9 1933.8C2046.3 1939.2 2051.7 1943.5 2057.1 1946.8C2062.6 1950.0 2068.0 1951.7 2073.4 1953.2C2078.8 1954.8 2084.2 1955.6 2089.6 1955.8C2095.0 1956.1 2100.4 1955.6 2105.8 1954.9C2111.3 1954.2 2116.7 1952.7 2122.1 1951.6C2127.5 1950.5 2132.9 1949.2 2138.3 1948.4C2143.7 1947.6 2149.1 1946.8 2154.5 1946.8C2160.0 1946.8 2164.5 1946.3 2170.8 1948.4C2177.0 1950.4 2185.7 1956.1 2192.0 1959.0C2198.3 1961.9 2203.8 1965.8 2208.8 1966.0C2213.8 1966.2 2217.8 1963.1 2222.0 1960.0C2226.2 1956.9 2229.3 1951.3 2234.0 1947.5C2238.7 1943.7 2244.7 1940.1 2250.0 1937.0C2255.3 1933.9 2263.3 1930.3 2266.0 1929.0" fill="none" stroke="#ff0000" stroke-width="14.0" stroke-linejoin="round"/></g>
<g clip-path="url(#clipD)"><path d="M407.7 1988.5C411.5 1988.0 423.4 1988.3 430.4 1985.7C437.4 1983.1 443.9 1977.6 449.9 1972.7C455.8 1967.9 460.7 1961.9 466.1 1956.5C471.5 1951.1 476.9 1945.4 482.3 1940.3C487.7 1935.1 493.2 1930.0 498.6 1925.6C504.0 1921.3 509.4 1917.3 514.8 1914.3C520.2 1911.3 525.6 1910.0 531.0 1907.8C536.5 1905.6 541.9 1903.7 547.3 1901.3C552.7 1898.9 558.1 1895.9 563.5 1893.2C568.9 1890.5 574.3 1887.8 579.7 1885.1C585.2 1882.4 590.6 1879.4 596.0 1876.9C601.4 1874.5 606.8 1871.9 612.2 1870.5C617.6 1869.0 623.0 1868.2 628.4 1868.2C633.9 1868.2 639.3 1868.7 644.7 1870.5C650.1 1872.2 655.5 1875.1 660.9 1878.6C666.3 1882.1 671.7 1887.2 677.1 1891.6C682.6 1895.9 688.0 1900.2 693.4 1904.5C698.8 1908.9 704.2 1913.5 709.6 1917.5C715.0 1921.6 720.4 1925.4 725.8 1928.9C731.3 1932.4 736.7 1935.9 742.1 1938.6C747.5 1941.3 752.9 1943.2 758.3 1945.1C763.7 1947.0 768.4 1948.4 774.5 1950.0C780.7 1951.6 788.4 1953.0 795.4 1954.5C802.3 1956.0 810.1 1957.7 816.2 1959.0C822.4 1960.3 827.1 1961.6 832.5 1962.3C837.9 1963.1 843.3 1963.1 848.7 1963.6C854.1 1964.2 859.5 1965.0 864.9 1965.6C870.3 1966.1 875.8 1966.2 881.2 1966.9C886.6 1967.5 892.0 1968.4 897.4 1969.5C902.8 1970.6 908.2 1972.0 913.6 1973.4C919.0 1974.7 924.5 1976.2 929.9 1977.6C935.3 1979.0 940.7 1980.7 946.1 1981.8C951.5 1982.9 956.9 1983.7 962.3 1984.1C967.7 1984.5 973.2 1984.4 978.6 1984.1C984.0 1983.8 989.4 1983.5 994.8 1982.5C1000.2 1981.4 1005.6 1979.8 1011.0 1977.6C1016.5 1975.4 1021.9 1972.5 1027.3 1969.5C1032.7 1966.5 1038.1 1963.0 1043.5 1959.7C1048.9 1956.5 1054.3 1953.2 1059.7 1950.0C1065.2 1946.8 1070.6 1943.2 1076.0 1940.3C1081.4 1937.3 1086.8 1934.4 1092.2 1932.1C1097.6 1929.9 1103.0 1928.0 1108.4 1926.6C1113.9 1925.3 1119.3 1924.7 1124.7 1924.0C1130.1 1923.4 1135.5 1923.0 1140.9 1922.7C1146.3 1922.5 1151.7 1922.5 1157.1 1922.4C1162.6 1922.3 1168.0 1922.7 1173.4 1922.4C1178.8 1922.1 1184.2 1921.7 1189.6 1920.8C1195.0 1919.9 1200.4 1919.0 1205.8 1916.9C1211.3 1914.7 1216.7 1911.7 1222.1 1907.8C1227.5 1903.8 1232.9 1898.1 1238.3 1893.2C1243.7 1888.3 1248.4 1882.4 1254.5 1878.6C1260.7 1874.7 1267.9 1871.2 1275.4 1870.3C1282.9 1869.3 1291.1 1869.9 1299.5 1872.9C1307.8 1875.9 1317.9 1882.5 1325.5 1888.3C1333.0 1894.1 1339.0 1902.8 1344.9 1907.8C1350.9 1912.8 1355.8 1915.7 1361.2 1918.2C1366.6 1920.6 1372.0 1922.0 1377.4 1922.4C1382.8 1922.8 1388.2 1922.2 1393.6 1920.8C1399.0 1919.3 1404.5 1916.3 1409.9 1913.6C1415.3 1910.9 1420.7 1907.5 1426.1 1904.5C1431.5 1901.6 1436.9 1898.3 1442.3 1895.8C1447.7 1893.2 1453.2 1891.1 1458.6 1889.3C1464.0 1887.5 1469.4 1886.2 1474.8 1885.1C1480.2 1883.9 1485.6 1883.3 1491.0 1882.5C1496.5 1881.7 1501.9 1881.4 1507.3 1880.2C1512.7 1879.0 1518.1 1877.8 1523.5 1875.3C1528.9 1872.9 1534.3 1869.4 1539.7 1865.6C1545.2 1861.8 1550.6 1856.9 1556.0 1852.6C1561.4 1848.3 1566.8 1843.7 1572.2 1839.6C1577.6 1835.6 1583.0 1831.2 1588.4 1828.2C1593.9 1825.3 1599.3 1823.4 1604.7 1821.8C1610.1 1820.1 1615.5 1818.8 1620.9 1818.5C1626.3 1818.2 1631.7 1818.8 1637.1 1820.1C1642.6 1821.5 1648.0 1823.4 1653.4 1826.6C1658.8 1829.9 1664.2 1833.5 1669.6 1839.6C1675.0 1845.7 1679.7 1853.8 1685.8 1863.1C1692.0 1872.5 1698.7 1883.9 1706.5 1895.8C1714.3 1907.7 1723.8 1925.4 1732.5 1934.6C1741.1 1943.7 1750.3 1947.7 1758.4 1950.8C1766.6 1953.9 1774.7 1952.3 1781.2 1953.2C1787.7 1954.2 1792.0 1955.1 1797.4 1956.5C1802.8 1957.8 1808.2 1960.0 1813.6 1961.4C1819.0 1962.7 1824.5 1964.1 1829.9 1964.6C1835.3 1965.2 1840.7 1965.2 1846.1 1964.6C1851.5 1964.1 1856.9 1963.0 1862.3 1961.4C1867.7 1959.7 1873.2 1957.8 1878.6 1954.9C1884.0 1951.9 1889.4 1947.8 1894.8 1943.5C1900.2 1939.2 1905.6 1933.5 1911.0 1928.9C1916.5 1924.3 1921.9 1919.4 1927.3 1915.9C1932.7 1912.4 1938.1 1909.8 1943.5 1907.8C1948.9 1905.8 1954.3 1904.5 1959.7 1903.9C1965.2 1903.2 1970.6 1903.2 1976.0 1903.9C1981.4 1904.5 1986.8 1905.8 1992.2 1907.8C1997.6 1909.8 2003.0 1913.2 2008.4 1915.9C2013.9 1918.6 2019.3 1922.1 2024.7 1924.0C2030.1 1925.9 2035.5 1927.0 2040.9 1927.3C2046.3 1927.5 2051.7 1926.7 2057.1 1925.6C2062.6 1924.6 2068.0 1922.2 2073.4 1920.8C2078.8 1919.3 2084.2 1917.9 2089.6 1916.9C2095.0 1915.9 2100.4 1914.9 2105.8 1914.9C2111.3 1914.9 2116.7 1915.4 2122.1 1916.9C2127.5 1918.4 2132.9 1920.7 2138.3 1924.0C2143.7 1927.4 2149.1 1931.6 2154.5 1937.0C2160.0 1942.4 2164.3 1949.2 2170.8 1956.5C2177.3 1963.8 2188.6 1976.7 2193.5 1980.8C2198.4 1985.0 2197.0 1979.8 2200.4 1981.3C2203.8 1982.8 2209.7 1987.8 2213.9 1989.7C2218.1 1991.7 2220.9 1994.1 2225.7 1993.0C2230.5 1991.9 2237.0 1987.2 2242.6 1983.0C2248.2 1978.8 2253.9 1972.9 2259.5 1967.8C2265.1 1962.7 2272.5 1956.1 2276.4 1952.6C2280.3 1949.1 2281.9 1947.9 2283.0 1947.0" fill="none" stroke="#00ff00" stroke-width="14.0" stroke-linejoin="round"/></g>
<g clip-path="url(#clipD)"><path d="M435.3 1976.0C437.7 1970.6 444.7 1954.3 449.9 1943.5C455.0 1932.7 460.7 1921.3 466.1 1911.0C471.5 1900.8 476.9 1891.0 482.3 1881.8C487.7 1872.6 493.2 1863.4 498.6 1855.8C504.0 1848.3 509.4 1841.2 514.8 1836.4C520.2 1831.5 525.6 1828.6 531.0 1826.6C536.5 1824.6 541.9 1824.5 547.3 1824.4C552.7 1824.2 558.1 1825.2 563.5 1826.0C568.9 1826.7 574.3 1827.8 579.7 1828.9C585.2 1830.0 590.6 1831.2 596.0 1832.5C601.4 1833.7 606.8 1834.8 612.2 1836.4C617.6 1837.9 623.0 1840.0 628.4 1841.9C633.9 1843.8 639.3 1845.9 644.7 1847.7C650.1 1849.5 655.5 1851.2 660.9 1852.6C666.3 1854.0 671.7 1854.9 677.1 1855.8C682.6 1856.8 688.0 1857.7 693.4 1858.1C698.8 1858.5 704.2 1858.7 709.6 1858.4C715.0 1858.2 720.4 1857.8 725.8 1856.8C731.3 1855.8 736.7 1854.3 742.1 1852.6C747.5 1850.9 752.9 1848.5 758.3 1846.8C763.7 1845.0 768.4 1843.3 774.5 1842.2C780.7 1841.1 788.4 1840.3 795.4 1840.1C802.3 1839.8 810.1 1840.2 816.2 1840.7C822.4 1841.2 827.1 1842.4 832.5 1842.9C837.9 1843.3 843.3 1843.6 848.7 1843.5C854.1 1843.4 859.5 1842.7 864.9 1842.2C870.3 1841.7 875.8 1840.7 881.2 1840.6C886.6 1840.4 892.0 1840.6 897.4 1841.2C902.8 1841.9 908.2 1843.1 913.6 1844.5C919.0 1845.8 924.5 1848.0 929.9 1849.4C935.3 1850.7 940.7 1851.6 946.1 1852.6C951.5 1853.6 956.9 1854.8 962.3 1855.2C967.7 1855.6 973.2 1855.4 978.6 1855.2C984.0 1855.0 989.4 1854.5 994.8 1854.2C1000.2 1853.9 1005.6 1853.6 1011.0 1853.2C1016.5 1852.9 1021.9 1852.5 1027.3 1851.9C1032.7 1851.4 1038.1 1850.9 1043.5 1850.0C1048.9 1849.1 1054.3 1847.8 1059.7 1846.8C1065.2 1845.7 1070.6 1844.8 1076.0 1843.8C1081.4 1842.9 1086.8 1842.2 1092.2 1841.2C1097.6 1840.3 1103.0 1839.0 1108.4 1838.0C1113.9 1837.0 1119.3 1836.0 1124.7 1835.4C1130.1 1834.7 1135.5 1833.9 1140.9 1834.1C1146.3 1834.3 1151.7 1835.2 1157.1 1836.4C1162.6 1837.6 1168.0 1839.8 1173.4 1841.2C1178.8 1842.7 1184.2 1844.6 1189.6 1845.1C1195.0 1845.7 1200.4 1845.9 1205.8 1844.5C1211.3 1843.0 1216.7 1840.4 1222.1 1836.4C1227.5 1832.3 1232.9 1826.1 1238.3 1820.1C1243.7 1814.2 1249.1 1806.1 1254.5 1800.6C1260.0 1795.2 1265.4 1790.7 1270.8 1787.7C1276.2 1784.7 1281.1 1781.4 1287.0 1782.5C1292.9 1783.6 1299.6 1787.5 1306.0 1794.2C1312.4 1800.9 1319.0 1813.1 1325.5 1822.6C1331.9 1832.0 1339.0 1843.8 1344.9 1851.0C1350.9 1858.1 1355.8 1862.3 1361.2 1865.6C1366.6 1868.8 1372.0 1870.5 1377.4 1870.5C1382.8 1870.5 1388.2 1868.3 1393.6 1865.6C1399.0 1862.9 1404.5 1858.3 1409.9 1854.2C1415.3 1850.2 1420.7 1845.3 1426.1 1841.2C1431.5 1837.2 1436.9 1832.8 1442.3 1829.9C1447.7 1826.9 1453.2 1824.7 1458.6 1823.4C1464.0 1822.0 1469.4 1821.6 1474.8 1821.8C1480.2 1821.9 1485.6 1822.9 1491.0 1824.0C1496.5 1825.1 1501.9 1827.3 1507.3 1828.2C1512.7 1829.2 1518.1 1830.4 1523.5 1829.9C1528.9 1829.3 1534.3 1828.2 1539.7 1825.0C1545.2 1821.8 1550.6 1816.1 1556.0 1810.4C1561.4 1804.7 1566.8 1797.1 1572.2 1790.9C1577.6 1784.7 1583.0 1777.9 1588.4 1773.1C1593.9 1768.2 1599.3 1764.2 1604.7 1761.7C1610.1 1759.1 1615.5 1758.2 1620.9 1757.8C1626.3 1757.4 1631.7 1757.4 1637.1 1759.1C1642.6 1760.8 1646.5 1761.8 1653.4 1768.2C1660.3 1774.6 1671.7 1787.1 1678.6 1797.4C1685.5 1807.7 1689.4 1819.1 1694.8 1829.9C1700.2 1840.7 1705.6 1850.4 1711.0 1862.3C1716.4 1874.2 1722.4 1890.5 1727.3 1901.3C1732.2 1912.1 1737.3 1921.6 1740.3 1927.3C1743.3 1933.0 1741.3 1932.4 1745.5 1935.4C1749.6 1938.4 1759.0 1944.0 1764.9 1945.1C1770.9 1946.2 1775.8 1943.8 1781.2 1941.9C1786.6 1940.0 1792.0 1936.5 1797.4 1933.8C1802.8 1931.1 1807.1 1929.4 1813.6 1925.6C1820.1 1921.9 1828.2 1921.0 1836.4 1911.0C1844.5 1901.0 1853.7 1883.7 1862.3 1865.6C1871.0 1847.5 1879.7 1821.1 1888.3 1802.3C1897.0 1783.5 1905.6 1764.4 1914.3 1752.8C1922.9 1741.1 1931.6 1734.0 1940.3 1732.5C1948.9 1731.0 1957.6 1733.5 1966.2 1743.8C1974.9 1754.1 1983.5 1774.4 1992.2 1794.2C2000.9 1813.9 2009.5 1841.5 2018.2 1862.3C2026.8 1883.2 2035.5 1905.1 2044.2 1919.2C2052.8 1933.2 2062.6 1941.3 2070.1 1946.8C2077.7 1952.2 2083.7 1950.8 2089.6 1951.6C2095.6 1952.4 2100.4 1951.9 2105.8 1951.6C2111.3 1951.4 2115.9 1950.3 2122.1 1950.0C2128.3 1949.7 2134.9 1944.9 2143.2 1950.0C2151.4 1955.1 2166.0 1974.0 2171.6 1980.8C2177.2 1987.7 2174.3 1986.8 2177.0 1991.0C2179.7 1995.2 2184.2 2002.5 2188.0 2006.0C2191.8 2009.5 2196.0 2012.0 2200.0 2012.0C2204.0 2012.0 2208.0 2009.7 2212.0 2006.0C2216.0 2002.3 2218.9 1998.3 2224.0 1990.0C2229.1 1981.7 2236.7 1967.3 2242.6 1956.0C2248.5 1944.7 2253.9 1933.3 2259.5 1922.0C2265.1 1910.7 2272.5 1896.2 2276.4 1888.4C2280.3 1880.6 2281.9 1877.2 2283.0 1875.0" fill="none" stroke="#000000" stroke-width="14.0" stroke-linejoin="round"/></g>
<defs><clipPath id="ds1"><rect x="344.2" y="1500.0" width="50.9" height="520.0"/><rect x="409.8" y="1500.0" width="27.3" height="520.0"/><rect x="453.0" y="1500.0" width="56.5" height="520.0"/><rect x="525.7" y="1500.0" width="27.5" height="520.0"/><rect x="569.4" y="1500.0" width="51.3" height="520.0"/><rect x="635.7" y="1500.0" width="27.6" height="520.0"/><rect x="679.5" y="1500.0" width="57.5" height="520.0"/><rect x="753.3" y="1500.0" width="28.0" height="520.0"/><rect x="797.6" y="1500.0" width="57.4" height="520.0"/><rect x="871.3" y="1500.0" width="28.0" height="520.0"/><rect x="915.6" y="1500.0" width="57.5" height="520.0"/><rect x="989.4" y="1500.0" width="28.0" height="520.0"/><rect x="1033.7" y="1500.0" width="57.4" height="520.0"/><rect x="1107.4" y="1500.0" width="27.9" height="520.0"/><rect x="1151.6" y="1500.0" width="57.4" height="520.0"/><rect x="1225.3" y="1500.0" width="27.7" height="520.0"/><rect x="1269.2" y="1500.0" width="57.2" height="520.0"/><rect x="1342.2" y="1500.0" width="27.4" height="520.0"/><rect x="1385.6" y="1500.0" width="57.2" height="520.0"/><rect x="1458.8" y="1500.0" width="27.4" height="520.0"/><rect x="1502.4" y="1500.0" width="57.3" height="520.0"/><rect x="1575.8" y="1500.0" width="27.3" height="520.0"/><rect x="1619.1" y="1500.0" width="57.1" height="520.0"/><rect x="1692.1" y="1500.0" width="27.2" height="520.0"/><rect x="1735.1" y="1500.0" width="56.8" height="520.0"/><rect x="1808.2" y="1500.0" width="28.0" height="520.0"/><rect x="1852.4" y="1500.0" width="57.4" height="520.0"/><rect x="1926.0" y="1500.0" width="27.0" height="520.0"/><rect x="1969.1" y="1500.0" width="56.8" height="520.0"/><rect x="2042.1" y="1500.0" width="28.0" height="520.0"/><rect x="2086.4" y="1500.0" width="57.2" height="520.0"/><rect x="2159.9" y="1500.0" width="27.7" height="520.0"/><rect x="2202.2" y="1500.0" width="53.9" height="520.0"/><rect x="2271.2" y="1500.0" width="16.8" height="520.0"/></clipPath></defs>
<g clip-path="url(#clipD)"><g clip-path="url(#ds1)"><path d="M342.1 1963.0C346.5 1963.5 359.9 1965.2 368.7 1966.2C377.5 1967.3 386.6 1967.9 394.7 1969.5C402.8 1971.1 410.9 1974.6 417.4 1976.0C423.9 1977.3 427.1 1977.1 433.6 1977.6C440.1 1978.1 448.2 1979.0 456.4 1979.2C464.5 1979.5 474.2 1979.2 482.3 1979.2C490.5 1979.2 497.5 1978.7 505.1 1979.2C512.6 1979.8 520.8 1981.1 527.8 1982.5C534.8 1983.8 540.8 1986.3 547.3 1987.3C553.8 1988.4 560.3 1989.0 566.8 1989.0C573.2 1989.0 579.7 1989.2 586.2 1987.3C592.7 1985.4 599.2 1981.4 605.7 1977.6C612.2 1973.8 618.7 1968.7 625.2 1964.6C631.7 1960.6 638.2 1956.2 644.7 1953.2C651.2 1950.3 656.0 1948.0 664.2 1946.8C672.3 1945.5 683.1 1945.8 693.4 1945.8C703.7 1945.8 715.0 1946.3 725.8 1946.8C736.7 1947.2 746.7 1947.4 758.3 1948.4C769.9 1949.4 784.1 1951.8 795.4 1952.8C806.7 1953.9 816.0 1955.9 826.0 1954.9C835.9 1953.9 846.0 1949.7 855.2 1946.8C864.4 1943.8 874.1 1938.9 881.2 1937.0C888.2 1935.1 890.4 1934.8 897.4 1935.4C904.4 1935.9 915.3 1938.4 923.4 1940.3C931.5 1942.2 938.0 1944.3 946.1 1946.8C954.2 1949.2 962.9 1952.7 972.1 1954.9C981.3 1957.0 992.1 1958.9 1001.3 1959.7C1010.5 1960.6 1017.5 1959.7 1027.3 1959.7C1037.0 1959.7 1048.9 1960.0 1059.7 1959.7C1070.6 1959.5 1081.4 1959.5 1092.2 1958.1C1103.0 1956.8 1116.6 1953.5 1124.7 1951.6C1132.8 1949.7 1135.5 1948.4 1140.9 1946.8C1146.3 1945.1 1151.7 1942.7 1157.1 1941.9C1162.6 1941.1 1166.9 1940.8 1173.4 1941.9C1179.9 1943.0 1188.0 1945.9 1196.1 1948.4C1204.2 1950.8 1213.4 1955.4 1222.1 1956.5C1230.7 1957.6 1239.2 1955.2 1248.1 1954.9C1256.9 1954.5 1266.8 1954.2 1275.4 1954.2C1284.0 1954.2 1291.7 1954.5 1299.5 1954.8C1307.3 1955.1 1314.6 1955.3 1322.2 1955.8C1329.8 1956.4 1337.9 1957.5 1344.9 1958.1C1352.0 1958.8 1357.4 1959.0 1364.4 1959.7C1371.5 1960.4 1379.6 1961.8 1387.1 1962.3C1394.7 1962.9 1402.3 1963.1 1409.9 1963.0C1417.4 1962.8 1425.0 1962.2 1432.6 1961.4C1440.2 1960.6 1447.7 1958.9 1455.3 1958.1C1462.9 1957.3 1470.5 1957.0 1478.1 1956.5C1485.6 1956.0 1493.2 1955.1 1500.8 1954.9C1508.4 1954.6 1515.9 1954.9 1523.5 1954.9C1531.1 1954.9 1538.7 1954.9 1546.2 1954.9C1553.8 1954.9 1561.4 1955.1 1569.0 1954.9C1576.5 1954.6 1584.1 1954.3 1591.7 1953.2C1599.3 1952.2 1606.8 1950.3 1614.4 1948.4C1622.0 1946.5 1629.6 1944.0 1637.1 1941.9C1644.7 1939.7 1652.8 1936.3 1659.9 1935.4C1666.9 1934.4 1672.7 1935.6 1679.4 1936.2C1686.0 1936.8 1693.3 1937.6 1700.0 1939.0C1706.7 1940.5 1712.4 1942.4 1719.5 1944.7C1726.5 1947.1 1734.6 1950.5 1742.2 1953.2C1749.8 1956.0 1757.9 1959.5 1764.9 1961.4C1772.0 1963.3 1777.4 1963.8 1784.4 1964.6C1791.5 1965.4 1799.6 1966.8 1807.1 1966.2C1814.7 1965.7 1822.3 1963.3 1829.9 1961.4C1837.4 1959.5 1845.0 1957.3 1852.6 1954.9C1860.2 1952.4 1867.7 1949.5 1875.3 1946.8C1882.9 1944.0 1890.5 1941.6 1898.1 1938.6C1905.6 1935.7 1913.2 1931.6 1920.8 1928.9C1928.4 1926.2 1935.9 1924.3 1943.5 1922.4C1951.1 1920.5 1958.7 1918.5 1966.2 1917.5C1973.8 1916.6 1981.4 1916.5 1989.0 1916.9C1996.5 1917.3 2004.1 1918.7 2011.7 1920.1C2019.3 1921.6 2026.8 1923.4 2034.4 1925.6C2042.0 1927.9 2049.6 1931.1 2057.1 1933.8C2064.7 1936.5 2072.3 1939.4 2079.9 1941.9C2087.4 1944.3 2095.0 1946.2 2102.6 1948.4C2110.2 1950.5 2117.7 1953.0 2125.3 1954.9C2132.9 1956.8 2141.0 1957.3 2148.1 1959.7C2155.1 1962.2 2160.8 1965.6 2167.5 1969.5C2174.3 1973.4 2181.4 1978.6 2188.6 1983.0C2195.8 1987.4 2204.3 1993.5 2210.5 1996.0C2216.7 1998.5 2220.9 1999.0 2226.0 1998.0C2231.1 1997.0 2234.6 1993.3 2241.0 1990.0C2247.4 1986.7 2257.5 1981.3 2264.5 1978.0C2271.5 1974.7 2279.9 1971.3 2283.0 1970.0" fill="none" stroke="#0000ff" stroke-width="14.0" stroke-linejoin="round"/></g></g>
<g clip-path="url(#clipD)"><g clip-path="url(#ds1)"><path d="M342.1 1950.0C346.5 1952.2 359.9 1958.4 368.7 1963.0C377.5 1967.6 386.6 1973.5 394.7 1977.6C402.8 1981.7 410.9 1986.0 417.4 1987.3C423.9 1988.7 427.1 1986.8 433.6 1985.7C440.1 1984.6 448.2 1982.7 456.4 1980.8C464.5 1979.0 474.2 1975.8 482.3 1974.4C490.5 1972.9 497.5 1972.2 505.1 1972.1C512.6 1972.0 520.8 1972.8 527.8 1973.7C534.8 1974.6 540.8 1976.8 547.3 1977.6C553.8 1978.4 560.3 1979.7 566.8 1978.6C573.2 1977.5 579.7 1974.0 586.2 1971.1C592.7 1968.2 599.2 1964.9 605.7 1961.4C612.2 1957.8 618.7 1953.0 625.2 1950.0C631.7 1947.0 638.2 1944.9 644.7 1943.5C651.2 1942.2 656.0 1942.2 664.2 1941.9C672.3 1941.6 683.1 1941.9 693.4 1941.9C703.7 1941.9 715.0 1942.0 725.8 1941.9C736.7 1941.7 746.7 1940.9 758.3 1940.9C769.9 1940.9 784.1 1941.3 795.4 1941.6C806.7 1942.0 816.0 1942.4 826.0 1942.9C835.9 1943.3 846.0 1943.8 855.2 1944.2C864.4 1944.5 871.4 1944.7 881.2 1945.1C890.9 1945.6 902.8 1946.4 913.6 1946.8C924.5 1947.1 935.3 1947.1 946.1 1947.4C956.9 1947.7 967.7 1948.2 978.6 1948.4C989.4 1948.5 1000.2 1948.5 1011.0 1948.4C1021.9 1948.2 1032.7 1947.8 1043.5 1947.4C1054.3 1947.0 1065.2 1946.6 1076.0 1946.1C1086.8 1945.6 1097.6 1944.9 1108.4 1944.2C1119.3 1943.5 1132.8 1942.4 1140.9 1941.9C1149.0 1941.3 1149.0 1940.7 1157.1 1940.9C1165.3 1941.1 1178.8 1942.4 1189.6 1942.9C1200.4 1943.3 1212.3 1943.9 1222.1 1943.5C1231.8 1943.1 1239.2 1941.4 1248.1 1940.3C1256.9 1939.2 1266.8 1937.4 1275.4 1936.9C1284.0 1936.3 1291.7 1936.5 1299.5 1936.9C1307.3 1937.4 1314.6 1938.2 1322.2 1939.6C1329.8 1941.0 1337.9 1943.5 1344.9 1945.1C1352.0 1946.8 1357.4 1948.0 1364.4 1949.4C1371.5 1950.7 1379.6 1952.1 1387.1 1953.2C1394.7 1954.4 1402.3 1956.0 1409.9 1956.5C1417.4 1957.0 1425.0 1957.0 1432.6 1956.5C1440.2 1956.0 1447.7 1954.6 1455.3 1953.2C1462.9 1951.9 1470.5 1949.7 1478.1 1948.4C1485.6 1947.0 1493.2 1945.9 1500.8 1945.1C1508.4 1944.3 1515.9 1944.0 1523.5 1943.5C1531.1 1943.0 1538.7 1942.7 1546.2 1941.9C1553.8 1941.1 1561.4 1940.0 1569.0 1938.6C1576.5 1937.3 1584.1 1935.4 1591.7 1933.8C1599.3 1932.1 1606.8 1930.2 1614.4 1928.9C1622.0 1927.5 1629.6 1926.5 1637.1 1925.6C1644.7 1924.8 1652.8 1923.8 1659.9 1924.0C1666.9 1924.2 1672.7 1925.6 1679.4 1926.9C1686.0 1928.1 1693.3 1929.8 1700.0 1931.3C1706.7 1932.9 1712.4 1934.4 1719.5 1936.2C1726.5 1938.0 1734.6 1940.2 1742.2 1941.9C1749.8 1943.5 1757.4 1945.0 1764.9 1946.1C1772.5 1947.2 1780.1 1947.8 1787.7 1948.4C1795.2 1948.9 1802.8 1949.4 1810.4 1949.4C1818.0 1949.4 1825.5 1948.8 1833.1 1948.4C1840.7 1947.9 1848.3 1947.3 1855.8 1946.8C1863.4 1946.2 1871.0 1945.7 1878.6 1945.1C1886.1 1944.6 1893.7 1944.0 1901.3 1943.5C1908.9 1943.0 1916.5 1943.2 1924.0 1941.9C1931.6 1940.5 1939.2 1937.0 1946.8 1935.4C1954.3 1933.8 1961.9 1932.1 1969.5 1932.1C1977.1 1932.1 1984.6 1934.1 1992.2 1935.4C1999.8 1936.6 2007.4 1938.5 2014.9 1939.6C2022.5 1940.7 2030.1 1941.2 2037.7 1941.9C2045.2 1942.5 2052.8 1943.2 2060.4 1943.5C2068.0 1943.8 2075.5 1943.6 2083.1 1943.5C2090.7 1943.4 2098.3 1943.1 2105.8 1942.9C2113.4 1942.6 2122.7 1941.7 2128.6 1941.9C2134.4 1942.1 2133.8 1943.5 2141.0 1944.0C2148.2 1944.5 2164.0 1944.4 2171.7 1945.0C2179.4 1945.6 2182.2 1946.0 2187.0 1947.5C2191.8 1949.0 2194.0 1951.5 2200.4 1954.3C2206.8 1957.1 2216.7 1961.0 2225.7 1964.4C2234.7 1967.8 2244.8 1970.9 2254.4 1974.5C2264.0 1978.1 2278.2 1984.1 2283.0 1986.0" fill="none" stroke="#edb120" stroke-width="14.0" stroke-linejoin="round"/></g></g>
<text x="106.0" y="1730.0" font-family='"DejaVu Sans", "Liberation Sans", sans-serif' font-size="63.3" fill="#000" text-anchor="middle" transform="rotate(-90 106.0 1730.0)" >nano-FTIR abs</text>
<text x="182.0" y="1752.0" font-family='"Liberation Sans", Arial, Helvetica, sans-serif' font-size="67.0" fill="#262626" text-anchor="middle" transform="rotate(-90 182.0 1752.0)" >(arb.un.)</text>
<text x="305.0" y="1553.0" font-family='"Liberation Sans", Arial, Helvetica, sans-serif' font-size="64.0" fill="#262626" text-anchor="end" >0.8</text>
<text x="305.0" y="1787.0" font-family='"Liberation Sans", Arial, Helvetica, sans-serif' font-size="64.0" fill="#262626" text-anchor="end" >0.4</text>
<text x="305.0" y="2020.0" font-family='"Liberation Sans", Arial, Helvetica, sans-serif' font-size="64.0" fill="#262626" text-anchor="end" >0</text>
<text x="2289.0" y="1608.5" font-family='"DejaVu Sans", "Liberation Sans", sans-serif' font-size="112.0" fill="#000" text-anchor="start" >d</text>
<text x="1990.0" y="1596.0" font-family='"DejaVu Sans", "Liberation Sans", sans-serif' font-size="16.0" fill="#000" text-anchor="start" >d</text>
<text x="342.5" y="2090.0" font-family='"Liberation Sans", Arial, Helvetica, sans-serif' font-size="64.0" fill="#262626" text-anchor="middle" >1200</text>
<text x="694.5" y="2090.0" font-family='"Liberation Sans", Arial, Helvetica, sans-serif' font-size="64.0" fill="#262626" text-anchor="middle" >1300</text>
<text x="1046.5" y="2090.0" font-family='"Liberation Sans", Arial, Helvetica, sans-serif' font-size="64.0" fill="#262626" text-anchor="middle" >1400</text>
<text x="1398.5" y="2090.0" font-family='"Liberation Sans", Arial, Helvetica, sans-serif' font-size="64.0" fill="#262626" text-anchor="middle" >1500</text>
<text x="1750.5" y="2090.0" font-family='"Liberation Sans", Arial, Helvetica, sans-serif' font-size="64.0" fill="#262626" text-anchor="middle" >1600</text>
<text x="2102.5" y="2090.0" font-family='"Liberation Sans", Arial, Helvetica, sans-serif' font-size="64.0" fill="#262626" text-anchor="middle" >1700</text>
<text x="981" y="2204.6" font-family='"Liberation Sans", Arial, Helvetica, sans-serif' font-size="74" fill="#262626">Wavenumber (cm<tspan dy="-33" font-size="60">-1</tspan><tspan dy="33">)</tspan></text>
<defs>
<clipPath id="clipE"><rect x="330" y="2312" width="666" height="629"/></clipPath>
<clipPath id="clipF"><rect x="1230" y="2299" width="674" height="664.5"/></clipPath>
<clipPath id="clipG"><rect x="319" y="3095" width="668" height="600"/></clipPath>
<linearGradient id="bgE" x1="0" y1="0" x2="1" y2="0"><stop offset="0" stop-color="#0b0b0b"/><stop offset="0.5" stop-color="#151515"/><stop offset="0.8" stop-color="#1e1e1e"/><stop offset="1" stop-color="#262626"/></linearGradient>
<linearGradient id="bgG" x1="0" y1="0" x2="1" y2="0"><stop offset="0" stop-color="#050505"/><stop offset="0.5" stop-color="#0e0e0e"/><stop offset="1" stop-color="#181818"/></linearGradient>
<linearGradient id="rodE" gradientUnits="userSpaceOnUse" x1="480" y1="0" x2="910" y2="0"><stop offset="0" stop-color="#ffffff"/><stop offset="0.6" stop-color="#ffffff"/><stop offset="1" stop-color="#d8d8d8"/></linearGradient>
<linearGradient id="rodF" gradientUnits="userSpaceOnUse" x1="1645" y1="2370" x2="1590" y2="2650"><stop offset="0" stop-color="#a0a0a0"/><stop offset="0.4" stop-color="#cfcfcf"/><stop offset="0.75" stop-color="#ffffff"/><stop offset="1" stop-color="#ffffff"/></linearGradient>
</defs>
<g clip-path="url(#clipE)">
<rect x="330" y="2312" width="666" height="629" fill="url(#bgE)"/>
<rect x="330" y="2868" width="169" height="73" fill="#070707"/>
<defs><filter id="be12" filterUnits="userSpaceOnUse" x="300" y="2290" width="720" height="670"><feGaussianBlur stdDeviation="12"/></filter></defs>
<ellipse cx="633.6" cy="2421.0" rx="26.9" ry="20.2" transform="rotate(0 633.6 2421.0)" fill="#2b2b2b" filter="url(#be12)" opacity="1"/>
<ellipse cx="705.3" cy="2429.9" rx="26.9" ry="20.2" transform="rotate(0 705.3 2429.9)" fill="#2d2d2d" filter="url(#be12)" opacity="1"/>
<defs><filter id="be18" filterUnits="userSpaceOnUse" x="300" y="2290" width="720" height="670"><feGaussianBlur stdDeviation="18"/></filter></defs>
<path d="M853.2 2425.5C861.4 2429.2 888.3 2435.2 902.5 2447.9C916.7 2460.6 929.7 2481.5 938.3 2501.6C946.9 2521.8 951.4 2548.7 954.0 2568.8C956.6 2589.0 957.7 2605.4 954.0 2622.6C950.3 2639.8 935.3 2663.7 931.6 2671.9" stroke="#585858" stroke-width="67.2" stroke-linecap="round" stroke-linejoin="round" fill="none" filter="url(#be18)" opacity="1"/>
<defs><filter id="be17" filterUnits="userSpaceOnUse" x="300" y="2290" width="720" height="670"><feGaussianBlur stdDeviation="17"/></filter></defs>
<ellipse cx="806.1" cy="2503.9" rx="73.9" ry="47.0" transform="rotate(-58 806.1 2503.9)" fill="#bdbdbd" filter="url(#be17)" opacity="1"/>
<defs><filter id="be16" filterUnits="userSpaceOnUse" x="300" y="2290" width="720" height="670"><feGaussianBlur stdDeviation="16"/></filter></defs>
<ellipse cx="812.9" cy="2488.2" rx="35.8" ry="22.4" transform="rotate(-58 812.9 2488.2)" fill="#d0d0d0" filter="url(#be16)" opacity="0.7"/>
<defs><filter id="be9" filterUnits="userSpaceOnUse" x="300" y="2290" width="720" height="670"><feGaussianBlur stdDeviation="9"/></filter></defs>
<ellipse cx="660.5" cy="2815.3" rx="13.4" ry="24.6" transform="rotate(10 660.5 2815.3)" fill="#343434" filter="url(#be9)" opacity="1"/>
<path d="M531.5 2724.8L857.7 2704.6" stroke="url(#rodE)" stroke-width="117.4" stroke-linecap="round" fill="none" filter="url(#be12)" opacity="1"/>
<path d="M848.7 2685.3L885.4 2674.1" stroke="#e0e0e0" stroke-width="67.2" stroke-linecap="round" fill="none" filter="url(#be12)" opacity="1"/>
<rect x="919" y="2319" width="59" height="3" fill="#000"/>
</g>
<rect x="330.5" y="2312.5" width="665" height="628" fill="none" stroke="#000" stroke-width="2"/>
<rect x="1004.5" y="2312.5" width="55.0" height="627.0" fill="url(#cb)" stroke="#000" stroke-width="3.0"/>
<text x="337.0" y="2400.0" font-family='"DejaVu Sans", "Liberation Sans", sans-serif' font-size="88.0" fill="#fff" text-anchor="start" textLength="335.0" lengthAdjust="spacingAndGlyphs">200 nm</text>
<rect x="418" y="2413.5" width="100" height="13" fill="#fff"/>
<text x="893.5" y="2411.2" font-family='"DejaVu Sans", "Liberation Sans", sans-serif' font-size="113.0" fill="#fff" text-anchor="start" >e</text>
<text x="966.0" y="2288.0" font-family='"DejaVu Sans", "Liberation Sans", sans-serif' font-size="88.0" fill="#000" text-anchor="start" >nm</text>
<text x="1060.0" y="2382.0" font-family='"DejaVu Sans", "Liberation Sans", sans-serif' font-size="86.0" fill="#000" text-anchor="start" >110</text>
<text x="1066.0" y="2593.0" font-family='"DejaVu Sans", "Liberation Sans", sans-serif' font-size="88.0" fill="#000" text-anchor="start" >80</text>
<text x="1060.0" y="2920.0" font-family='"DejaVu Sans", "Liberation Sans", sans-serif' font-size="88.0" fill="#000" text-anchor="start" >0</text>
<circle cx="685" cy="2708.6" r="10.5" fill="#da70f0"/>
<circle cx="725.5" cy="2709" r="10.5" fill="#70dcdc"/>
<g clip-path="url(#clipF)">
<rect x="1230" y="2299" width="674" height="665" fill="#0d0d0d"/>
<defs><filter id="bf8" filterUnits="userSpaceOnUse" x="1200" y="2280" width="730" height="700"><feGaussianBlur stdDeviation="8"/></filter></defs>
<path d="M1651.8 2551.4L1781.4 2524.1" stroke="#8e8e8e" stroke-width="63.6" stroke-linecap="round" fill="none" filter="url(#bf8)" opacity="1"/>
<defs><filter id="bf9" filterUnits="userSpaceOnUse" x="1200" y="2280" width="730" height="700"><feGaussianBlur stdDeviation="9"/></filter></defs>
<path d="M1637.3 2403.6L1591.8 2635.5" stroke="url(#rodF)" stroke-width="81.8" stroke-linecap="round" fill="none" filter="url(#bf9)" opacity="1"/>
<path d="M1499.5 2715.0L1360.9 2828.6" stroke="#8c8c8c" stroke-width="68.2" stroke-linecap="round" fill="none" filter="url(#bf9)" opacity="1"/>
<path d="M1308.6 2821.8L1324.5 2821.8" stroke="#505050" stroke-width="27.3" stroke-linecap="round" fill="none" filter="url(#bf8)" opacity="1"/>
<path d="M1272.3 2833.2L1272.3 2865.0" stroke="#7a7a7a" stroke-width="43.2" stroke-linecap="round" fill="none" filter="url(#bf9)" opacity="1"/>
<path d="M1788.2 2803.6L1856.4 2799.1" stroke="#a0a0a0" stroke-width="63.6" stroke-linecap="round" fill="none" filter="url(#bf9)" opacity="1"/>
<path d="M1865.5 2842.3L1824.5 2867.3" stroke="#666666" stroke-width="43.2" stroke-linecap="round" fill="none" filter="url(#bf9)" opacity="1"/>
<path d="M1797.3 2892.3L1842.7 2896.8" stroke="#7c7c7c" stroke-width="68.2" stroke-linecap="round" fill="none" filter="url(#bf9)" opacity="1"/>
</g>
<rect x="1234" y="2303" width="666" height="656.5" fill="none" stroke="#000" stroke-width="8"/>
<rect x="1918.0" y="2303.0" width="104.0" height="656.5" fill="url(#cb)" stroke="#000" stroke-width="8.0"/>
<text x="1279.5" y="2392.0" font-family='"Liberation Sans", Arial, Helvetica, sans-serif' font-size="85.0" fill="#fff" text-anchor="start" >1 µm</text>
<rect x="1260" y="2425" width="219" height="9" fill="#fff"/>
<text x="1828.0" y="2399.0" font-family='"DejaVu Sans", "Liberation Sans", sans-serif' font-size="112.0" fill="#fff" text-anchor="start" >f</text>
<text x="1900.0" y="2280.5" font-family='"DejaVu Sans", "Liberation Sans", sans-serif' font-size="88.0" fill="#000" text-anchor="start" >nm</text>
<text x="2020.0" y="2375.0" font-family='"DejaVu Sans", "Liberation Sans", sans-serif' font-size="86.0" fill="#000" text-anchor="start" >180</text>
<text x="2027.5" y="2620.5" font-family='"DejaVu Sans", "Liberation Sans", sans-serif' font-size="86.0" fill="#000" text-anchor="start" >100</text>
<text x="2037.0" y="2954.0" font-family='"DejaVu Sans", "Liberation Sans", sans-serif' font-size="88.0" fill="#000" text-anchor="start" >0</text>
<circle cx="1467" cy="2728" r="11.5" fill="#f00"/>
<circle cx="1437.5" cy="2745" r="11" fill="#000"/>
<g clip-path="url(#clipG)">
<rect x="319" y="3095" width="669" height="600" fill="url(#bgG)"/>
<rect x="327" y="3605" width="198" height="62" fill="#020202"/>
<defs><mask id="silG" maskUnits="userSpaceOnUse" x="300" y="3080" width="700" height="640"><path d="M425.9 3507.7L426.9 3495.1L429.9 3482.7L434.7 3471.0L441.4 3460.2L449.6 3450.5L459.3 3442.3L470.1 3435.6L481.8 3430.8L494.2 3427.8L789.3 3377.5L797.7 3376.8L806.1 3377.5L814.3 3379.4L822.1 3382.7L829.3 3387.1L835.7 3392.5L841.1 3398.9L845.5 3406.1L848.7 3413.9L850.7 3422.1L851.4 3430.5L850.7 3438.8L848.7 3447.0L845.5 3454.8L841.1 3462.0L835.7 3468.4L829.3 3473.8L822.1 3478.2L814.3 3481.5L531.8 3584.7L519.5 3587.6L506.8 3588.6L494.2 3587.6L481.8 3584.7L470.1 3579.8L459.3 3573.2L449.6 3564.9L441.4 3555.3L434.7 3544.5L429.9 3532.7L426.9 3520.4Z" fill="#fff"/><path d="M511.4 3464.5L512.3 3452.1L515.3 3440.0L520.0 3428.4L608.2 3252.0L615.4 3240.3L624.3 3229.8L634.8 3220.8L646.5 3213.7L659.3 3208.4L672.6 3205.2L686.4 3204.1L700.1 3205.2L713.5 3208.4L726.2 3213.7L737.9 3220.8L748.4 3229.8L757.3 3240.3L764.5 3252.0L769.8 3264.7L773.0 3278.1L774.1 3291.8L773.0 3305.5L769.8 3318.9L764.5 3331.6L661.8 3500.7L655.3 3511.3L647.2 3520.8L637.7 3528.9L627.0 3535.4L615.5 3540.2L603.4 3543.1L590.9 3544.1L578.5 3543.1L566.3 3540.2L554.8 3535.4L544.2 3528.9L534.7 3520.8L526.6 3511.3L520.0 3500.7L515.3 3489.1L512.3 3477.0Z" fill="#fff"/></mask></defs>
<defs><filter id="bg9" filterUnits="userSpaceOnUse" x="290" y="3070" width="720" height="650"><feGaussianBlur stdDeviation="9"/></filter></defs>
<g filter="url(#bg9)"><g mask="url(#silG)">
<rect x="319" y="3095" width="669" height="600" fill="#d2d2d2"/>
<defs><filter id="bg22" filterUnits="userSpaceOnUse" x="290" y="3070" width="720" height="650"><feGaussianBlur stdDeviation="22"/></filter></defs>
<ellipse cx="813.6" cy="3423.6" rx="68.2" ry="86.4" transform="rotate(0 813.6 3423.6)" fill="#8a8a8a" filter="url(#bg22)" opacity="1"/>
<defs><filter id="bg30" filterUnits="userSpaceOnUse" x="290" y="3070" width="720" height="650"><feGaussianBlur stdDeviation="30"/></filter></defs>
<ellipse cx="645.5" cy="3387.3" rx="86.4" ry="136.4" transform="rotate(30 645.5 3387.3)" fill="#ececec" filter="url(#bg30)" opacity="1"/>
<defs><filter id="bg14" filterUnits="userSpaceOnUse" x="290" y="3070" width="720" height="650"><feGaussianBlur stdDeviation="14"/></filter></defs>
<ellipse cx="709.1" cy="3307.7" rx="61.4" ry="45.5" transform="rotate(-15 709.1 3307.7)" fill="#ffffff" filter="url(#bg14)" opacity="1"/>
</g></g>
<rect x="922" y="3303" width="62" height="14" fill="#000"/>
<path d="M975.5 3128Q981 3165 973 3204" stroke="#000" stroke-width="6" fill="none" stroke-linecap="round"/>
</g>
<rect x="320" y="3096" width="666" height="598" fill="none" stroke="#000" stroke-width="2"/>
<rect x="997.0" y="3097.0" width="69.0" height="596.5" fill="url(#cb)" stroke="#000" stroke-width="4.0"/>
<text x="333.0" y="3186.4" font-family='"DejaVu Sans", "Liberation Sans", sans-serif' font-size="88.0" fill="#fff" text-anchor="start" textLength="334.0" lengthAdjust="spacingAndGlyphs">200 nm</text>
<defs><filter id="bg1_5" filterUnits="userSpaceOnUse" x="290" y="3070" width="720" height="650"><feGaussianBlur stdDeviation="1.5"/></filter></defs>
<rect x="417.3" y="3208.6" width="112.2" height="15" fill="#fff" filter="url(#bg1_5)"/>
<text x="916.0" y="3171.5" font-family='"DejaVu Sans", "Liberation Sans", sans-serif' font-size="102.0" fill="#fff" text-anchor="start" >g</text>
<text x="957.5" y="3070.0" font-family='"DejaVu Sans", "Liberation Sans", sans-serif' font-size="88.0" fill="#000" text-anchor="start" >nm</text>
<text x="1068.5" y="3157.5" font-family='"DejaVu Sans", "Liberation Sans", sans-serif' font-size="85.0" fill="#000" text-anchor="start" >135</text>
<text x="1068.5" y="3304.5" font-family='"DejaVu Sans", "Liberation Sans", sans-serif' font-size="86.0" fill="#000" text-anchor="start" >100</text>
<text x="1075.5" y="3691.5" font-family='"DejaVu Sans", "Liberation Sans", sans-serif' font-size="88.0" fill="#000" text-anchor="start" >0</text>
<circle cx="511.8" cy="3516.5" r="11.5" fill="#f5a623"/>
<circle cx="791" cy="3410" r="11.5" fill="#00d000"/>
<circle cx="771.6" cy="3497" r="11.5" fill="#0000ff"/>
</svg>
</body></html>
